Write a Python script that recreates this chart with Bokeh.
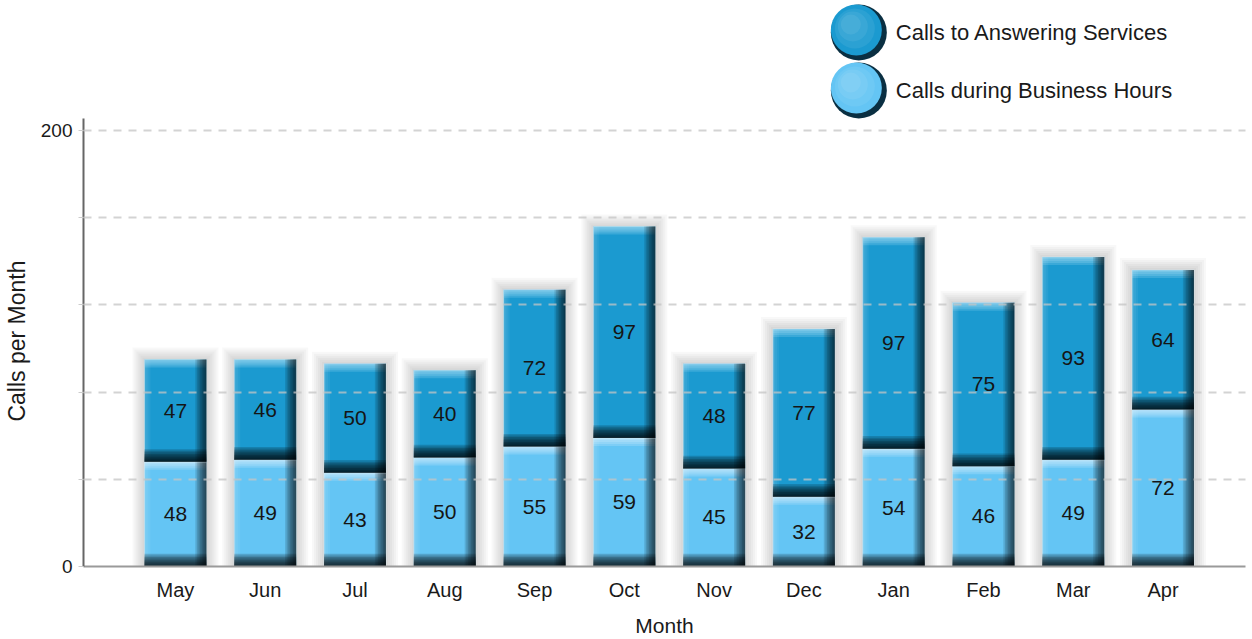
import numpy as np
from bokeh.plotting import figure
from bokeh.models import FixedTicker, Range1d
from bokeh.core.properties import value
from bokeh.embed import file_html
from bokeh.resources import INLINE

# ---------------- data ----------------
months = ["May", "Jun", "Jul", "Aug", "Sep", "Oct", "Nov", "Dec", "Jan", "Feb", "Mar", "Apr"]
business_hours = [48, 49, 43, 50, 55, 59, 45, 32, 54, 46, 49, 72]
answering_services = [47, 46, 50, 40, 72, 97, 48, 77, 97, 75, 93, 64]
series_names = ["Calls to Answering Services", "Calls during Business Hours"]
y_ticks = [0, 40, 80, 120, 160, 200]
y_tick_labels = {0: "0", 200: "200"}
x_title = "Month"
y_title = "Calls per Month"

# ---------------- layout ----------------
W, H = 1252, 639
LEFT, BOTTOM, RIGHT = 82, 73, 7
frame_w = W - LEFT - RIGHT
frame_h = H - BOTTOM
XS = 89.86   # px per category
YS = 2.18    # px per call
x_start = 1 - (174 - LEFT) / XS
Y_AXIS_TOP = 205.5
FONT = "Liberation Sans"

def px_x(v):
    return v / XS

def px_y(v):
    return v / YS

C_ANS = "#1b9ad0"
C_BUS = "#64c5f4"

p = figure(width=W, height=H, output_backend="svg", toolbar_location=None,
           x_range=Range1d(x_start, x_start + frame_w / XS),
           y_range=Range1d(0, frame_h / YS))
p.min_border_left = LEFT
p.min_border_right = RIGHT
p.min_border_top = 0
p.min_border_bottom = BOTTOM
p.outline_line_color = None
p.background_fill_color = "white"
p.border_fill_color = "white"

x = np.arange(1, len(months) + 1, dtype=float)
bus = np.array(business_hours, dtype=float)
ans = np.array(answering_services, dtype=float)
total = bus + ans
hw = px_x(31)

# drop shadow
for k in range(1, 7):
    e = k * 2.0
    p.quad(left=x - hw - px_x(e), right=x + hw + px_x(e), bottom=0, top=total + px_y(e),
           fill_color="#555555", fill_alpha=0.045, line_color=None)

def glossy(bottom, top, color, light):
    p.quad(left=x - hw, right=x + hw, bottom=bottom, top=top,
           fill_color=color, line_color="#cfe6f0", line_width=1, line_alpha=0.6)
    # left lighter edge
    for k in range(3):
        p.quad(left=x - hw, right=x - hw + px_x(2 + 2 * k), bottom=bottom, top=top,
               fill_color="white", fill_alpha=0.06, line_color=None)
    # top highlight
    for k in range(4):
        p.quad(left=x - hw, right=x + hw, bottom=top - px_y(2 + 2 * k), top=top,
               fill_color=light, fill_alpha=0.2, line_color=None)
    # right dark edge
    for k in range(7):
        p.quad(left=x + hw - px_x(1.5 + 1.6 * k), right=x + hw, bottom=bottom, top=top,
               fill_color="black", fill_alpha=0.13, line_color=None)
    # bottom dark band
    for k in range(8):
        p.quad(left=x - hw, right=x + hw, bottom=bottom, top=bottom + px_y(1.5 + 1.6 * k),
               fill_color="black", fill_alpha=0.17, line_color=None)

glossy(np.zeros_like(bus), bus, C_BUS, "#e6f7ff")
glossy(bus, total, C_ANS, "#b8e6fa")

# value labels
p.text(x=x, y=bus / 2, text=[str(int(v)) for v in bus], text_align="center",
       text_baseline="middle", text_font=value(FONT), text_font_size="21px", text_color="#151515")
p.text(x=x, y=bus + ans / 2, text=[str(int(v)) for v in ans], text_align="center",
       text_baseline="middle", text_font=value(FONT), text_font_size="21px", text_color="#151515")

# legend (manual, glossy circles)
leg_x = 1 + px_x(858 - 174)
leg_y = [px_y(frame_h - 32), px_y(frame_h - 90)]
leg_cols = [C_ANS, C_BUS]
for ly, col in zip(leg_y, leg_cols):
    p.scatter(x=[leg_x], y=[ly], size=56, marker="circle", fill_color="#0a2f42", line_color=None)
    p.scatter(x=[leg_x - px_x(2.5)], y=[ly + px_y(2.5)], size=51, marker="circle",
              fill_color=col, line_color=None)
    for k, s in enumerate([40, 30, 20]):
        p.scatter(x=[leg_x - px_x(4 + 2 * k)], y=[ly + px_y(4 + 2 * k)], size=s, marker="circle",
                  fill_color="white", fill_alpha=0.07, line_color=None)
p.text(x=[leg_x + px_x(37)] * 2, y=leg_y, text=series_names, text_align="left",
       text_baseline="middle", text_font=value(FONT), text_font_size="22px", text_color="#1a1a1a")

# axes
p.xaxis.ticker = FixedTicker(ticks=list(x))
p.xaxis.major_label_overrides = {int(i): m for i, m in zip(x, months)}
p.xaxis.major_tick_line_color = None
p.xaxis.major_tick_out = 0
p.xaxis.major_tick_in = 0
p.xaxis.minor_tick_line_color = None
p.xaxis.axis_line_color = "#9a9a9a"
p.xaxis.axis_line_width = 2
p.xaxis.major_label_text_font = FONT
p.xaxis.major_label_text_font_size = "20px"
p.xaxis.major_label_text_color = "#1a1a1a"
p.xaxis.major_label_standoff = 12
p.xaxis.axis_label = x_title
p.xaxis.axis_label_text_font = FONT
p.xaxis.axis_label_text_font_size = "21px"
p.xaxis.axis_label_text_font_style = "normal"
p.xaxis.axis_label_text_color = "#1a1a1a"
p.xaxis.axis_label_standoff = 10

p.yaxis.ticker = FixedTicker(ticks=y_ticks)
p.yaxis.major_label_overrides = {t: y_tick_labels.get(t, "") for t in y_ticks}
p.yaxis.bounds = (0, Y_AXIS_TOP)
p.yaxis.axis_line_color = "#666666"
p.yaxis.axis_line_width = 2
p.yaxis.major_tick_line_color = "#cccccc"
p.yaxis.major_tick_out = 5
p.yaxis.major_tick_in = 0
p.yaxis.minor_tick_line_color = None
p.yaxis.major_label_text_font = FONT
p.yaxis.major_label_text_font_size = "19px"
p.yaxis.major_label_text_color = "#1a1a1a"
p.yaxis.major_label_standoff = 6
# trailing no-break spaces move the title's centre down onto the drawn axis line
p.yaxis.axis_label = y_title + "\u00a0" * 18
p.yaxis.axis_label_text_font = FONT
p.yaxis.axis_label_text_font_size = "23px"
p.yaxis.axis_label_text_font_style = "normal"
p.yaxis.axis_label_text_color = "#1a1a1a"
p.yaxis.axis_label_standoff = 8

p.xgrid.visible = False
p.ygrid.ticker = FixedTicker(ticks=[t for t in y_ticks if t > 0])
p.ygrid.grid_line_color = "#c4c4c4"
p.ygrid.grid_line_alpha = 0.75
p.ygrid.grid_line_width = 2
p.ygrid.grid_line_dash = "8 7"
p.ygrid.level = "overlay"

open("out.html", "w").write(file_html(p, INLINE))
